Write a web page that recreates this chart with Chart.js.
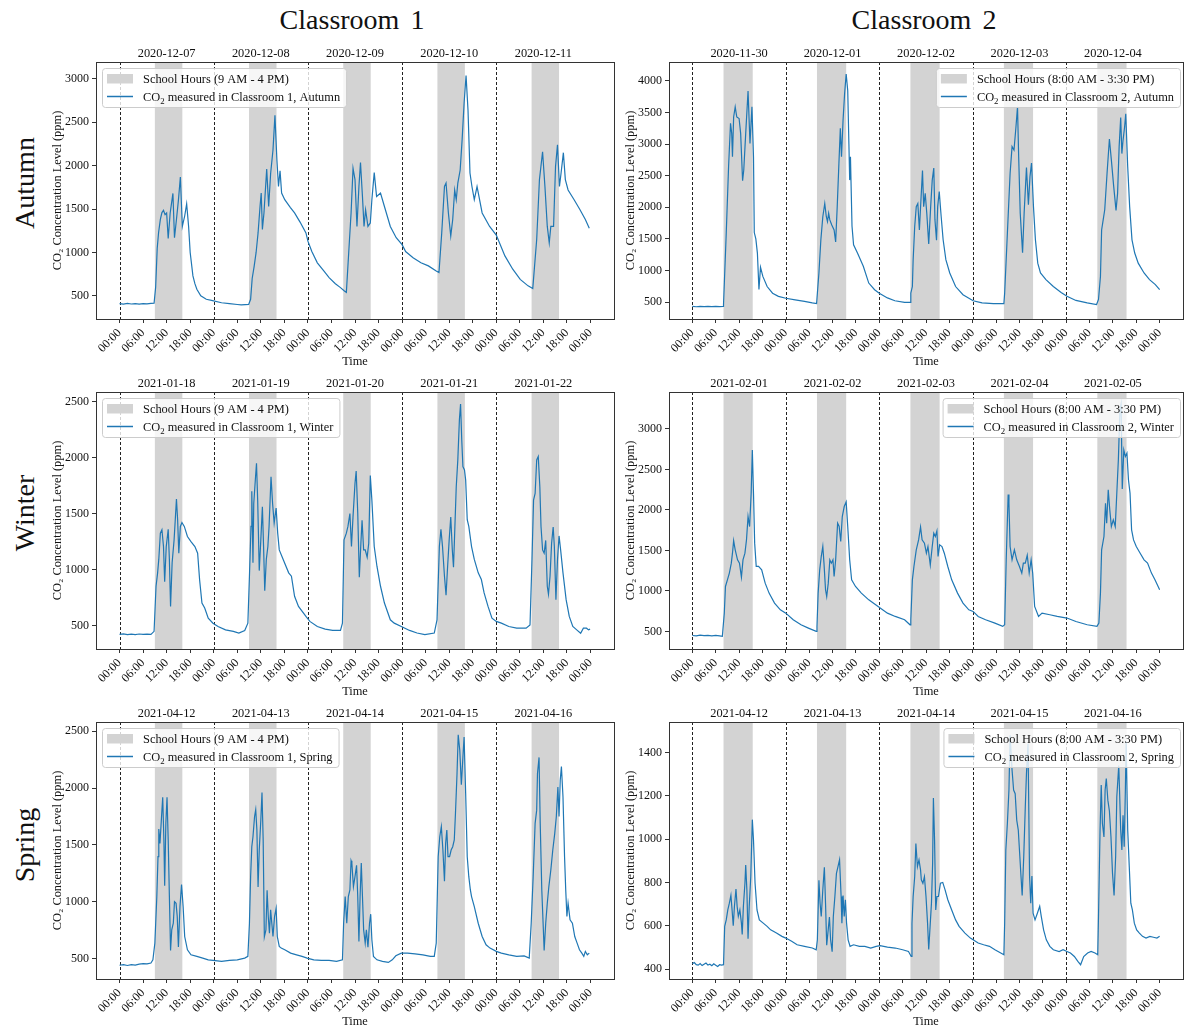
<!DOCTYPE html>
<html>
<head>
<meta charset="utf-8">
<script src="https://cdn.jsdelivr.net/npm/chart.js@4.4.1/dist/chart.umd.min.js"></script>
<style>
  body { margin: 0; width: 1184px; height: 1025px; overflow: hidden; background: #fff; position: relative; font-family: 'Liberation Serif', serif; color: #111; }
  canvas { position: absolute; }
  .colTitle { position: absolute; top: 4px; font-size: 28px; line-height: 32px; transform: translateX(-50%); white-space: pre; word-spacing: 4px; }
  .rowTitle { position: absolute; font-size: 28px; line-height: 32px; transform: translate(-50%, -50%) rotate(-90deg); white-space: pre; }
</style>
</head>
<body>
<div class="colTitle" style="left:352px">Classroom 1</div>
<div class="colTitle" style="left:924px">Classroom 2</div>
<div class="rowTitle" style="left:25px; top:183px">Autumn</div>
<div class="rowTitle" style="left:25px; top:513px">Winter</div>
<div class="rowTitle" style="left:25px; top:845px">Spring</div>
<script>
const FONT = "'Liberation Serif', 'Times New Roman', serif";

// x axis in hours from the first midnight
const hourTicks = [0, 6, 12, 18, 24, 30, 36, 42, 48, 54, 60, 66, 72, 78, 84, 90, 96, 102, 108, 114, 120];
const hourLabels = ['00:00', '06:00', '12:00', '18:00'];
const dayStarts = [0, 24, 48, 72, 96];
const dateTickHours = [12, 36, 60, 84, 108];

const schoolC1 = [9, 16];
const schoolC2 = [8, 15.5];
const schoolLabelC1 = 'School Hours (9 AM - 4 PM)';
const schoolLabelC2 = 'School Hours (8:00 AM - 3:30 PM)';

const datesC1Autumn = ['2020-12-07', '2020-12-08', '2020-12-09', '2020-12-10', '2020-12-11'];
const datesC2Autumn = ['2020-11-30', '2020-12-01', '2020-12-02', '2020-12-03', '2020-12-04'];
const datesC1Winter = ['2021-01-18', '2021-01-19', '2021-01-20', '2021-01-21', '2021-01-22'];
const datesC2Winter = ['2021-02-01', '2021-02-02', '2021-02-03', '2021-02-04', '2021-02-05'];
const datesSpring = ['2021-04-12', '2021-04-13', '2021-04-14', '2021-04-15', '2021-04-16'];

const yTicksC1Autumn = [500, 1000, 1500, 2000, 2500, 3000];
const yTicksC2Autumn = [500, 1000, 1500, 2000, 2500, 3000, 3500, 4000];
const yTicksC1Winter = [500, 1000, 1500, 2000, 2500];
const yTicksC2Winter = [500, 1000, 1500, 2000, 2500, 3000];
const yTicksC1Spring = [500, 1000, 1500, 2000, 2500];
const yTicksC2Spring = [400, 600, 800, 1000, 1200, 1400];

// [hour, ppm]
const c1Autumn = [[0,410],[1,405],[2,412],[3,406],[4,410],[5,404],[6,411],[7,407],[8,412],[8.8,415],[9.2,600],[9.6,1050],[9.95,1230],[10.4,1380],[10.8,1460],[11.2,1486],[11.6,1436],[12.0,1455],[12.4,1160],[12.9,1455],[13.6,1680],[14.0,1170],[14.5,1380],[15.0,1600],[15.5,1870],[16.0,1300],[16.6,1420],[17.1,1560],[17.6,1300],[18.0,1000],[18.7,730],[19.2,640],[19.7,576],[20.7,500],[22.1,460],[23.7,445],[26,420],[28,410],[30,400],[31,395],[32,398],[32.9,400],[33.4,460],[33.8,700],[34.3,840],[34.8,1000],[35.3,1225],[35.8,1530],[36.1,1685],[36.4,1265],[36.8,1455],[37.5,1960],[38.0,1530],[38.5,1910],[39.1,2180],[39.6,2580],[40.1,2065],[40.5,1760],[40.9,1940],[41.3,1685],[42.1,1608],[43.5,1520],[44.6,1456],[46,1350],[47.5,1225],[48.0,1130],[49,1010],[50.4,880],[52,790],[53.4,710],[55,640],[56.3,595],[57.3,555],[57.8,540],[58.4,1000],[59.0,1455],[59.5,1970],[60.0,1840],[60.5,1300],[61.0,1760],[61.4,2035],[61.9,1645],[62.3,1300],[62.7,1490],[63.3,1300],[63.9,1340],[64.3,1608],[64.9,1920],[65.5,1645],[66.5,1685],[67.5,1530],[69.0,1300],[70.5,1170],[72.0,1090],[72.9,1010],[74.8,940],[76.8,882],[78.7,845],[80.7,787],[81.4,768],[82.1,1225],[82.8,1760],[83.2,1800],[83.8,1455],[84.4,1190],[84.9,1380],[85.4,1720],[85.8,1608],[86.2,1800],[86.8,1950],[87.3,2300],[87.8,2720],[88.3,3040],[88.8,2640],[89.3,1915],[89.8,1760],[90.4,1608],[91.1,1760],[92.4,1455],[94.3,1300],[96.0,1200],[98.2,960],[100.2,807],[102.1,690],[104.1,615],[105.3,584],[106.3,1150],[107.0,1840],[107.8,2160],[108.4,1760],[109.0,1300],[109.5,1110],[109.9,1300],[110.6,1300],[111.1,1990],[111.6,2240],[112.1,1760],[112.5,1910],[113.1,2150],[113.6,1840],[114.3,1720],[115.8,1610],[117.3,1495],[118.7,1380],[119.7,1280]];

const c2Autumn = [[0,430],[1,425],[2,432],[3,428],[4,430],[5,426],[6,432],[7,428],[7.9,432],[8.0,460],[8.7,1590],[9.3,2640],[9.8,3330],[10.1,3170],[10.3,2800],[10.6,3430],[11.0,3590],[11.4,3430],[12.0,3405],[12.4,3170],[12.9,2420],[13.2,2590],[13.7,3170],[14.3,3840],[14.8,3010],[15.3,3590],[15.7,2800],[15.9,1600],[16.3,1500],[16.7,1275],[17.1,700],[17.5,1050],[18.1,905],[19.2,745],[20.6,640],[22.1,590],[24.0,560],[26.4,535],[28.8,510],[30.8,485],[31.9,475],[32.5,960],[33.0,1485],[33.5,1850],[34.0,2060],[34.4,1850],[34.7,1775],[35.0,1905],[35.3,1800],[35.8,1720],[36.4,1640],[36.8,1450],[37.2,2010],[37.6,2640],[38.0,3250],[38.3,2800],[38.7,3380],[39.1,3800],[39.5,4110],[39.9,3850],[40.2,3000],[40.4,2430],[40.6,2800],[41.0,1700],[41.4,1405],[42.4,1275],[43.9,1065],[45.3,800],[46.8,695],[48.0,640],[50.1,565],[52.0,520],[54.5,495],[55.9,495],[56.1,640],[56.5,745],[56.7,1170],[57.1,1695],[57.5,2010],[57.9,2060],[58.3,1640],[58.7,2115],[59.1,2580],[59.4,2010],[59.8,2220],[60.2,1905],[60.7,1420],[61.2,2010],[61.6,2430],[62.0,2620],[62.3,1800],[62.7,1480],[63.0,2010],[63.4,2250],[63.9,1850],[64.4,1485],[65.1,1170],[66.1,960],[67.6,745],[69.5,615],[72.1,520],[74.4,485],[77.3,475],[80.0,475],[80.2,640],[80.9,1590],[81.6,2540],[82.1,2960],[82.6,2905],[83.1,3270],[83.5,3590],[83.8,2800],[84.2,1905],[84.6,1485],[84.8,1280],[85.2,1905],[85.8,2630],[86.3,2040],[86.7,2485],[87.1,2700],[87.6,2010],[88.1,1485],[88.7,1115],[89.4,960],[90.8,855],[92.7,745],[94.7,650],[96.2,590],[98.5,525],[101.4,485],[103.8,460],[104.3,540],[104.8,905],[105.1,1640],[105.5,1800],[105.9,1960],[106.5,2540],[107.1,3080],[107.6,2750],[108.2,2330],[108.8,1950],[109.2,2220],[109.6,2960],[110.0,3420],[110.3,2850],[110.6,3060],[111.0,3270],[111.3,3480],[111.8,2640],[112.3,2010],[112.9,1485],[113.6,1275],[114.5,1115],[116.0,960],[117.4,855],[118.9,775],[120.0,695]];

const c1Winter = [[0,420],[1,425],[2,418],[3,422],[4,417],[5,423],[6,419],[7,422],[8,420],[8.8,447],[9.3,850],[9.7,970],[10.0,1090],[10.4,1325],[10.8,1355],[11.2,1205],[11.5,890],[11.9,1205],[12.4,1360],[12.7,1090],[13.0,670],[13.4,1060],[13.9,1265],[14.2,1445],[14.5,1630],[14.8,1445],[15.1,1146],[15.5,1385],[15.9,1420],[16.5,1385],[17.3,1295],[18.2,1250],[19.2,1205],[19.9,1146],[20.4,908],[21.0,700],[21.7,655],[22.6,565],[23.8,520],[25.1,490],[27.0,460],[29.0,447],[30.4,432],[31.9,455],[32.7,520],[33.1,940],[33.5,1385],[33.7,1700],[34.0,1060],[34.2,1590],[34.6,1800],[34.9,1950],[35.2,1620],[35.6,990],[36.0,1265],[36.4,1560],[36.7,1205],[37.0,810],[37.4,1090],[37.8,1205],[38.1,1385],[38.6,1830],[39.0,1590],[39.4,1415],[39.9,1550],[40.3,1325],[40.7,1175],[41.7,1090],[43.1,970],[43.8,940],[44.6,760],[45.6,670],[47.5,580],[48.5,536],[50.4,490],[52.4,467],[54.3,455],[56.3,455],[56.8,520],[57.2,1265],[57.8,1325],[58.2,1385],[58.7,1500],[59.1,1205],[59.5,1475],[60.0,1770],[60.3,1880],[60.7,1505],[61.1,930],[61.5,1235],[61.8,1440],[62.2,1175],[62.6,1175],[63.1,1110],[63.5,1235],[63.9,1840],[64.3,1620],[64.9,1205],[65.6,1027],[66.5,850],[67.5,700],[69.0,550],[70.0,520],[71.8,490],[73.9,455],[75.8,432],[77.8,417],[80.2,432],[80.9,550],[81.5,1205],[81.9,1360],[82.3,1205],[82.8,940],[83.2,770],[83.6,1027],[84.0,1265],[84.4,1470],[84.8,1175],[85.1,1020],[85.4,1325],[85.8,1740],[86.2,1980],[86.6,2336],[86.9,2480],[87.2,2160],[87.5,1920],[87.9,1890],[88.2,1800],[88.6,1445],[89.0,1385],[89.7,1205],[90.4,1090],[91.4,970],[92.2,910],[92.9,790],[93.9,670],[94.9,565],[96.0,536],[97.3,520],[99.2,490],[101.2,475],[103.6,475],[104.6,505],[105.1,1090],[105.5,1620],[105.9,1680],[106.3,1980],[106.7,2010],[107.1,1740],[107.4,1385],[107.8,1175],[108.2,1146],[108.6,1260],[109.0,850],[109.3,780],[109.7,940],[110.1,1235],[110.5,1380],[110.8,1205],[111.2,730],[111.6,1090],[112.0,1300],[112.4,1175],[113.0,970],[113.8,730],[114.6,580],[115.5,490],[116.5,460],[117.5,430],[118.2,475],[119.0,475],[119.5,460],[119.9,467]];

const c2Winter = [[0,450],[1,445],[2,455],[3,448],[4,452],[5,446],[6,450],[7,445],[7.7,440],[8.2,726],[8.5,1055],[9.0,1137],[9.5,1220],[10.0,1343],[10.3,1466],[10.6,1620],[11.0,1507],[11.6,1384],[12.1,1343],[12.6,1170],[13.0,1384],[13.5,1466],[13.9,1630],[14.3,1920],[14.7,1795],[15.1,2206],[15.4,2740],[15.7,2206],[16.0,1590],[16.4,1302],[17.0,1302],[17.8,1260],[18.7,1096],[19.7,973],[21.1,850],[22.6,767],[24.0,726],[25.9,644],[27.9,582],[29.8,541],[31.8,500],[32.0,562],[32.3,973],[32.7,1260],[33.1,1425],[33.5,1550],[33.8,1343],[34.2,1014],[34.5,930],[34.9,1096],[35.3,1384],[35.7,1343],[36.1,1384],[36.4,1178],[36.8,1384],[37.3,1836],[37.7,1795],[38.1,1610],[38.5,1918],[39.0,2042],[39.5,2100],[39.9,1795],[40.4,1384],[40.9,1137],[41.9,1055],[43.4,973],[45.3,890],[47.7,808],[50.1,726],[52.1,685],[54.5,644],[55.9,582],[56.1,644],[56.5,1137],[56.9,1302],[57.5,1507],[58.1,1630],[58.6,1790],[59.0,1630],[59.6,1590],[60.1,1466],[60.5,1548],[61.1,1320],[61.6,1548],[62.0,1713],[62.4,1672],[62.8,1740],[63.1,1425],[63.5,1570],[64.1,1548],[64.7,1466],[65.6,1302],[66.6,1137],[68.1,973],[69.5,850],[71.0,767],[72.1,747],[73.4,685],[75.3,644],[77.7,603],[79.7,562],[80.2,582],[80.6,1384],[81.1,2190],[81.3,2083],[81.6,1548],[82.1,1384],[82.7,1507],[83.3,1384],[84.0,1302],[84.6,1220],[85.0,1343],[85.5,1343],[86.0,1440],[86.5,1220],[87.0,1384],[87.4,1220],[87.9,808],[88.9,685],[89.8,726],[91.8,706],[93.7,685],[96.2,665],[98.5,623],[101.4,582],[103.9,562],[104.4,603],[104.8,973],[105.1,1507],[105.7,1672],[106.1,2083],[106.4,1836],[106.8,2250],[107.2,2000],[107.6,1795],[108.1,1877],[108.6,1795],[109.0,2206],[109.4,2618],[109.8,3234],[110.1,3310],[110.4,2260],[110.8,2741],[111.2,2659],[111.6,2700],[112.0,2370],[112.4,2206],[112.8,1754],[113.3,1630],[114.0,1548],[115.0,1466],[116.0,1384],[116.9,1343],[117.9,1220],[118.8,1137],[120.0,1014]];

const c1Spring = [[0,440],[1,445],[2,438],[3,446],[4,442],[5,450],[6,455],[7,452],[8,460],[8.5,488],[9.0,635],[9.5,1045],[9.8,1396],[10.0,1640],[10.3,1513],[10.7,1748],[11.0,1920],[11.3,1543],[11.5,1140],[11.8,1689],[12.1,1920],[12.4,1543],[12.7,1045],[13.0,570],[13.3,752],[13.7,810],[14.0,1000],[14.4,986],[14.7,869],[15.0,600],[15.4,957],[15.8,1150],[16.2,957],[16.6,693],[17.3,576],[18.2,532],[19.7,518],[21.2,503],[22.6,488],[23.8,483],[26.0,474],[28.0,483],[30.0,488],[31.9,503],[32.7,518],[33.1,810],[33.4,1220],[33.7,1484],[34.0,1572],[34.4,1748],[34.7,1810],[35.0,1630],[35.3,1130],[35.6,1455],[36.0,1718],[36.3,1960],[36.6,1543],[36.9,690],[37.3,752],[37.6,1100],[37.9,869],[38.2,723],[38.5,928],[38.8,810],[39.1,693],[39.5,869],[39.9,940],[40.2,693],[40.7,606],[41.2,591],[42.1,576],[43.6,547],[45.1,532],[46.5,518],[47.8,503],[49.5,488],[51.4,483],[53.4,483],[55.3,474],[56.8,488],[57.1,810],[57.5,1045],[57.9,810],[58.3,1045],[58.7,1103],[59.0,1360],[59.2,1338],[59.6,1133],[60.0,1220],[60.4,1320],[60.7,1045],[61.0,650],[61.3,1045],[61.6,1340],[61.9,1045],[62.2,752],[62.6,635],[62.9,752],[63.3,600],[63.7,810],[64.0,890],[64.3,664],[64.7,518],[65.6,488],[67.0,474],[68.5,465],[69.5,488],[70.4,523],[71.8,547],[73.4,547],[75.3,541],[77.3,532],[79.2,518],[80.2,518],[80.7,635],[81.2,1396],[81.6,1572],[82.0,1660],[82.4,1455],[82.8,1180],[83.1,1513],[83.4,1630],[83.7,1396],[84.1,1396],[84.5,1455],[84.9,1484],[85.3,1543],[85.6,1777],[86.0,2128],[86.3,2470],[86.7,2333],[87.1,2030],[87.5,2274],[87.8,2450],[88.2,1953],[88.6,1396],[89.0,1220],[89.4,1103],[89.7,1045],[90.4,957],[91.4,810],[92.4,693],[93.4,620],[94.4,591],[96.0,562],[97.3,547],[99.2,532],[101.2,518],[103.1,523],[104.4,503],[104.9,810],[105.4,1220],[105.9,1689],[106.3,1806],[106.5,2128],[106.9,2270],[107.2,1689],[107.6,1103],[108.0,752],[108.2,570],[108.6,810],[109.0,986],[109.4,1133],[109.9,1279],[110.4,1455],[110.9,1601],[111.3,1748],[111.7,2010],[112.0,1750],[112.3,2070],[112.6,2190],[113.0,1923],[113.4,1396],[113.7,1103],[114.0,869],[114.3,986],[114.8,840],[115.4,810],[116.0,693],[116.6,635],[117.2,576],[117.8,547],[118.3,518],[118.7,562],[119.2,532],[119.7,547]];

const c2Spring = [[0,425],[0.5,430],[1,420],[1.5,418],[2,425],[2.5,416],[3,422],[3.5,428],[4,418],[4.5,422],[5,415],[5.5,424],[6,418],[6.5,412],[7,420],[7.5,418],[8.0,420],[8.3,597],[8.7,627],[9.1,673],[9.5,704],[9.9,740],[10.2,673],[10.5,600],[10.8,689],[11.2,770],[11.5,689],[11.8,643],[12.2,673],[12.6,612],[12.8,560],[13.1,689],[13.5,796],[13.7,880],[14.0,766],[14.3,540],[14.6,689],[15.0,827],[15.4,1090],[15.7,996],[16.1,796],[16.6,673],[17.2,627],[18.2,612],[19.2,597],[20.1,581],[21.6,566],[23.0,551],[24.0,543],[25.5,528],[26.9,512],[28.8,505],[30.8,497],[31.8,489],[32.1,535],[32.5,810],[32.8,704],[33.1,643],[33.5,766],[33.9,870],[34.2,704],[34.5,510],[34.8,566],[35.2,640],[35.5,535],[35.9,480],[36.2,643],[36.6,735],[37.0,842],[37.4,873],[37.8,905],[38.2,735],[38.4,612],[38.7,740],[39.0,643],[39.3,720],[39.6,612],[40.0,535],[40.5,505],[41.4,512],[42.9,505],[44.3,505],[45.8,497],[47.2,505],[48.2,508],[50.1,501],[52.1,497],[54.0,489],[55.5,481],[56.2,458],[56.4,612],[56.7,735],[57.1,827],[57.4,980],[57.8,873],[58.2,904],[58.6,858],[58.8,812],[59.2,796],[59.6,827],[60.0,735],[60.4,612],[60.7,490],[61.1,612],[61.4,704],[61.7,888],[61.9,1190],[62.2,996],[62.5,673],[62.8,735],[63.2,735],[63.7,796],[64.3,800],[64.9,766],[65.6,720],[66.6,673],[67.6,627],[68.5,597],[70.0,566],[71.4,543],[72.1,535],[73.4,520],[74.8,512],[76.3,505],[77.7,489],[79.2,474],[80.0,466],[80.2,612],[80.5,950],[80.9,1073],[81.3,1227],[81.6,1480],[82.1,1319],[82.5,1227],[82.9,1210],[83.3,1088],[83.7,1042],[84.0,950],[84.4,827],[84.7,740],[85.1,919],[85.5,1150],[85.8,1303],[86.2,1440],[86.6,827],[86.9,704],[87.2,830],[87.5,658],[88.0,627],[88.6,658],[89.2,690],[89.6,643],[90.2,581],[90.9,535],[91.8,505],[92.7,489],[94.2,481],[95.2,489],[96.2,481],[97.1,474],[98.1,458],[99.0,435],[99.7,420],[100.5,458],[101.5,474],[102.4,481],[103.4,474],[104.1,466],[104.3,643],[104.7,1042],[105.0,1250],[105.3,1073],[105.7,1010],[106.0,1227],[106.3,1280],[106.7,1180],[107.1,1130],[107.5,1011],[107.9,842],[108.3,740],[108.7,919],[109.0,1196],[109.5,1340],[109.7,1227],[110.0,1042],[110.3,950],[110.6,1110],[110.9,965],[111.2,1227],[111.4,1450],[111.8,1042],[112.2,873],[112.6,704],[113.0,673],[113.5,612],[114.1,581],[114.8,566],[115.6,551],[116.5,543],[117.5,551],[118.4,547],[119.3,543],[120.0,551]];

const panels = [
  { data: c1Autumn, dates: datesC1Autumn, yTicks: yTicksC1Autumn, yMin: 233, yMax: 3195, school: schoolC1, schoolLabel: schoolLabelC1, series: 'CO₂ measured in Classroom 1, Autumn', side: 'left', col: 0, row: 0 },
  { data: c2Autumn, dates: datesC2Autumn, yTicks: yTicksC2Autumn, yMin: 231, yMax: 4300, school: schoolC2, schoolLabel: schoolLabelC2, series: 'CO₂ measured in Classroom 2, Autumn', side: 'right', col: 1, row: 0 },
  { data: c1Winter, dates: datesC1Winter, yTicks: yTicksC1Winter, yMin: 289, yMax: 2587, school: schoolC1, schoolLabel: schoolLabelC1, series: 'CO₂ measured in Classroom 1, Winter', side: 'left', col: 0, row: 1 },
  { data: c2Winter, dates: datesC2Winter, yTicks: yTicksC2Winter, yMin: 283, yMax: 3456, school: schoolC2, schoolLabel: schoolLabelC2, series: 'CO₂ measured in Classroom 2, Winter', side: 'right', col: 1, row: 1 },
  { data: c1Spring, dates: datesSpring, yTicks: yTicksC1Spring, yMin: 319, yMax: 2582, school: schoolC1, schoolLabel: schoolLabelC1, series: 'CO₂ measured in Classroom 1, Spring', side: 'left', col: 0, row: 2 },
  { data: c2Spring, dates: datesSpring, yTicks: yTicksC2Spring, yMin: 354, yMax: 1541, school: schoolC2, schoolLabel: schoolLabelC2, series: 'CO₂ measured in Classroom 2, Spring', side: 'right', col: 1, row: 2 }
];

// plot boxes in page pixels
const colLeft = [96, 669], colRight = [614, 1183];
const rowTop = [62, 392, 722], plotH = 257;
const AX_L = 70, AX_T = 26, AX_B = 58;

// grey school-hours bands and dashed midnight lines
const bandsPlugin = {
  id: 'bands',
  beforeDatasetsDraw(chart, args, o) {
    const { ctx, chartArea: a, scales: { x } } = chart;
    ctx.save();
    ctx.beginPath();
    ctx.rect(a.left, a.top, a.right - a.left, a.bottom - a.top);
    ctx.clip();
    ctx.fillStyle = '#d3d3d3';
    dayStarts.forEach(d => {
      const x0 = x.getPixelForValue(d + o.school[0]);
      const x1 = x.getPixelForValue(d + o.school[1]);
      ctx.fillRect(x0, a.top, x1 - x0, a.bottom - a.top);
    });
    ctx.strokeStyle = '#222';
    ctx.lineWidth = 1;
    ctx.setLineDash([3, 2]);
    dayStarts.forEach(d => {
      const px = Math.round(x.getPixelForValue(d)) + 0.5;
      ctx.beginPath();
      ctx.moveTo(px, a.top);
      ctx.lineTo(px, a.bottom);
      ctx.stroke();
    });
    ctx.restore();
  }
};

// axes frame and the legend box
const framePlugin = {
  id: 'frame',
  afterDraw(chart, args, o) {
    const { ctx, chartArea: a } = chart;
    ctx.save();
    const main = '12.4px ' + FONT, small = '8.8px ' + FONT;
    const parts = o.series.split('₂');
    ctx.font = main;
    const w1 = ctx.measureText(o.schoolLabel).width;
    const wa = ctx.measureText(parts[0]).width;
    const wc = ctx.measureText(parts[1]).width;
    ctx.font = small;
    const wb = ctx.measureText('2').width;
    const textW = Math.max(w1, wa + wb + wc);
    const bw = 5 + 26 + 10 + textW + 6, bh = 39;
    const bx = o.side === 'left' ? a.left + 6 : a.right - 3 - bw;
    const by = a.top + 6;

    ctx.fillStyle = 'rgba(255,255,255,0.8)';
    ctx.strokeStyle = '#cccccc';
    ctx.lineWidth = 1;
    ctx.beginPath();
    if (ctx.roundRect) ctx.roundRect(bx + 0.5, by + 0.5, bw, bh, 3); else ctx.rect(bx + 0.5, by + 0.5, bw, bh);
    ctx.fill();
    ctx.stroke();

    ctx.fillStyle = '#d3d3d3';
    ctx.fillRect(bx + 5, by + 6, 26, 9.5);
    ctx.strokeStyle = '#1f77b4';
    ctx.lineWidth = 1.5;
    ctx.beginPath();
    ctx.moveTo(bx + 5, by + 28.5);
    ctx.lineTo(bx + 31, by + 28.5);
    ctx.stroke();

    const tx = bx + 41;
    ctx.fillStyle = '#111';
    ctx.textBaseline = 'alphabetic';
    ctx.font = main;
    ctx.fillText(o.schoolLabel, tx, by + 15);
    ctx.fillText(parts[0], tx, by + 33);
    ctx.font = small;
    ctx.fillText('2', tx + wa, by + 36);
    ctx.font = main;
    ctx.fillText(parts[1], tx + wa + wb, by + 33);

    ctx.strokeStyle = '#333';
    ctx.lineWidth = 1;
    ctx.strokeRect(a.left + 0.5, a.top + 0.5, a.right - a.left, a.bottom - a.top);
    ctx.restore();
  }
};

panels.forEach(p => {
  const left = colLeft[p.col], right = colRight[p.col], top = rowTop[p.row];
  const cv = document.createElement('canvas');
  cv.width = (right - left) + AX_L + 1;
  cv.height = plotH + AX_T + AX_B;
  cv.style.left = (left - AX_L) + 'px';
  cv.style.top = (top - AX_T) + 'px';
  document.body.appendChild(cv);

  new Chart(cv.getContext('2d'), {
    type: 'line',
    data: {
      datasets: [{
        data: p.data.map(([h, v]) => ({ x: h, y: v })),
        borderColor: '#1f77b4',
        borderWidth: 1.2,
        pointRadius: 0,
        tension: 0,
        fill: false
      }]
    },
    options: {
      responsive: false,
      animation: false,
      devicePixelRatio: 1,
      layout: { padding: { left: 0, right: 1, top: 0, bottom: 0 } },
      plugins: {
        legend: { display: false },
        tooltip: { enabled: false },
        bands: { school: p.school },
        frame: { side: p.side, schoolLabel: p.schoolLabel, series: p.series }
      },
      scales: {
        x: {
          type: 'linear',
          position: 'bottom',
          min: -6,
          max: 126,
          afterBuildTicks: s => { s.ticks = hourTicks.map(v => ({ value: v })); },
          afterFit: s => { s.height = AX_B; },
          ticks: {
            autoSkip: false,
            minRotation: 45,
            maxRotation: 45,
            padding: 3,
            color: '#111',
            font: { family: FONT, size: 12 },
            callback: v => hourLabels[(v % 24) / 6]
          },
          grid: { drawOnChartArea: false, drawTicks: true, tickLength: 4, tickColor: '#333' },
          border: { display: false },
          title: { display: true, text: 'Time', color: '#111', font: { family: FONT, size: 12.4 }, padding: { top: 0, bottom: 8 } }
        },
        top: {
          type: 'linear',
          position: 'top',
          min: -6,
          max: 126,
          afterBuildTicks: s => { s.ticks = dateTickHours.map(v => ({ value: v })); },
          afterFit: s => { s.height = AX_T; },
          ticks: {
            autoSkip: false,
            maxRotation: 0,
            padding: 1,
            color: '#111',
            font: { family: FONT, size: 12.4 },
            callback: (v, i) => p.dates[i]
          },
          grid: { display: false, drawTicks: false },
          border: { display: false }
        },
        y: {
          type: 'linear',
          min: p.yMin,
          max: p.yMax,
          afterBuildTicks: s => { s.ticks = p.yTicks.map(v => ({ value: v })); },
          afterFit: s => { s.width = AX_L; },
          ticks: { padding: 3, color: '#111', font: { family: FONT, size: 12 }, callback: v => String(v) },
          grid: { drawOnChartArea: false, drawTicks: true, tickLength: 4, tickColor: '#333' },
          border: { display: false },
          title: { display: true, text: 'CO₂ Concentration Level (ppm)', color: '#111', font: { family: FONT, size: 12.4 }, padding: { top: 24, bottom: 0 } }
        }
      }
    },
    plugins: [bandsPlugin, framePlugin]
  });
});
</script>
</body>
</html>
